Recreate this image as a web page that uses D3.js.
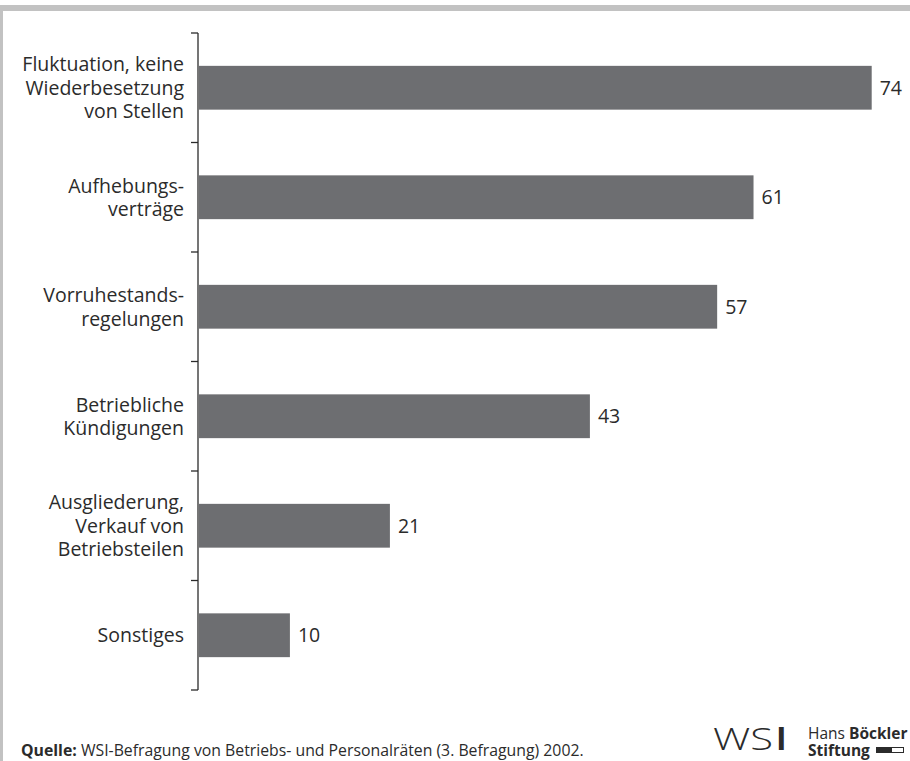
<!DOCTYPE html>
<html>
<head>
<meta charset="utf-8">
<script src="https://cdn.jsdelivr.net/npm/d3@7"></script>
<style>
  html, body { margin: 0; padding: 0; background: #fff; }
  svg { display: block; }
  text { font-family: "Open Sans", "Noto Sans", sans-serif; }
</style>
</head>
<body>
<svg id="chart" width="910" height="761"></svg>
<script>
// Gründe für Personalabbau (Anteile in Prozent)
const categories = [
  ["Fluktuation, keine", "Wiederbesetzung", "von Stellen"],
  ["Aufhebungs-", "verträge"],
  ["Vorruhestands-", "regelungen"],
  ["Betriebliche", "Kündigungen"],
  ["Ausgliederung,", "Verkauf von", "Betriebsteilen"],
  ["Sonstiges"]
];
const values = [74, 61, 57, 43, 21, 10];
const sourceLabel = "Quelle:";
const sourceText = " WSI-Befragung von Betriebs- und Personalräten (3. Befragung) 2002.";

const svg = d3.select("#chart");
const W = 910, H = 761;

// frame: grey rule on top and left
svg.append("rect").attr("x", 0).attr("y", 5).attr("width", W).attr("height", 6).attr("fill", "#c2c2c2");
svg.append("rect").attr("x", 0).attr("y", 5).attr("width", 3).attr("height", H - 5).attr("fill", "#c2c2c2");

const margin = { left: 198, top: 33, bottom: 690 };
const keys = categories.map((c, i) => i);

const y = d3.scaleBand()
  .domain(keys)
  .range([margin.top, margin.bottom])
  .paddingInner(0.6)
  .paddingOuter(0.3);

const x = d3.scaleLinear().domain([0, 74]).range([margin.left + 1, 871.7]);

// bars
svg.append("g").selectAll("rect")
  .data(values)
  .join("rect")
  .attr("x", x(0))
  .attr("y", (d, i) => y(i))
  .attr("width", d => x(d) - x(0))
  .attr("height", y.bandwidth())
  .attr("fill", "#6d6e71");

// value labels
svg.append("g").selectAll("text")
  .data(values)
  .join("text")
  .attr("x", d => x(d) + 8)
  .attr("y", (d, i) => y(i) + y.bandwidth() / 2)
  .attr("dy", "0.36em")
  .attr("font-size", 19.5)
  .attr("fill", "#2b2b2b")
  .text(d => d);

// category axis: band boundaries as ticks
const step = (margin.bottom - margin.top) / categories.length;
const axisG = svg.append("g");
axisG.append("line")
  .attr("x1", margin.left).attr("x2", margin.left)
  .attr("y1", margin.top).attr("y2", margin.bottom)
  .attr("stroke", "#2b2b2b").attr("stroke-width", 1.3);
axisG.selectAll("line.tick")
  .data(d3.range(categories.length + 1))
  .join("line")
  .attr("class", "tick")
  .attr("x1", margin.left - 7).attr("x2", margin.left)
  .attr("y1", i => margin.top + i * step)
  .attr("y2", i => margin.top + i * step)
  .attr("stroke", "#2b2b2b").attr("stroke-width", 1.3);

// category labels, right-aligned
const lineH = 23.5;
const labels = svg.append("g").selectAll("text")
  .data(categories)
  .join("text")
  .attr("text-anchor", "end")
  .attr("font-size", 19.5)
  .attr("fill", "#2b2b2b")
  .attr("y", (d, i) => y(i) + y.bandwidth() / 2 - (d.length - 1) * lineH / 2)
  .attr("dy", "0.36em");
labels.selectAll("tspan")
  .data(d => d)
  .join("tspan")
  .attr("x", 184)
  .attr("dy", (d, j) => j === 0 ? "0.36em" : lineH)
  .text(d => d);

// source note
const src = svg.append("text")
  .attr("x", 21).attr("y", 756)
  .attr("font-size", 15.8)
  .attr("fill", "#2b2b2b");
src.append("tspan").attr("font-weight", 700).text(sourceLabel);
src.append("tspan").text(sourceText);

// logos
const wsi = svg.append("text")
  .attr("x", 713).attr("y", 750)
  .attr("fill", "#2b2b2b")
  .attr("font-family", "Liberation Sans, Arial, sans-serif")
  .attr("font-size", 32);
wsi.append("tspan").attr("font-weight", 300)
  .attr("textLength", 60).attr("lengthAdjust", "spacingAndGlyphs")
  .text("WS");
wsi.append("tspan").attr("font-weight", 700).attr("x", 776).text("I");

const hb = svg.append("text")
  .attr("x", 808).attr("y", 739)
  .attr("font-family", "Roboto, sans-serif")
  .attr("font-size", 15.5)
  .attr("fill", "#2b2b2b");
hb.append("tspan").text("Hans ");
hb.append("tspan").attr("font-weight", 700).text("Böckler");
svg.append("text")
  .attr("x", 808).attr("y", 755.5)
  .attr("font-family", "Roboto, sans-serif")
  .attr("font-size", 15.5)
  .attr("font-weight", 700)
  .attr("fill", "#2b2b2b")
  .text("Stiftung");
svg.append("rect").attr("x", 876).attr("y", 747).attr("width", 16).attr("height", 6).attr("fill", "#2b2b2b");
svg.append("rect").attr("x", 891.5).attr("y", 747.5).attr("width", 12).attr("height", 5).attr("fill", "none").attr("stroke", "#2b2b2b").attr("stroke-width", 1);
</script>
</body>
</html>
